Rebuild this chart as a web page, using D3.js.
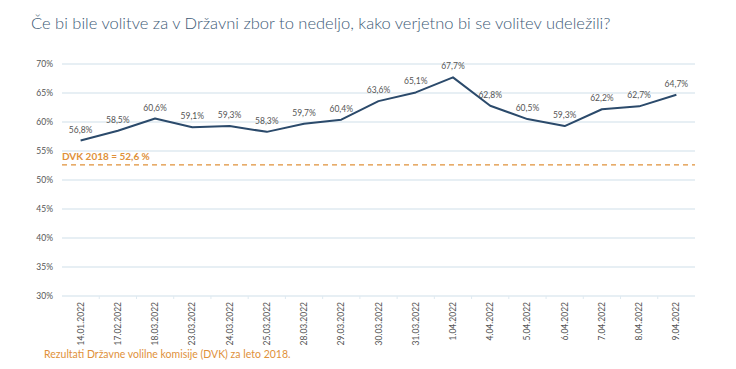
<!DOCTYPE html>
<html>
<head>
<meta charset="utf-8">
<script src="https://cdn.jsdelivr.net/npm/d3@7"></script>
<style>
  body { margin: 0; background: #fff; }
  text { font-family: Lato, "Open Sans", sans-serif; }
</style>
</head>
<body>
<div id="chart"></div>
<script>
const dates = ['14.01.2022', '17.02.2022', '18.03.2022', '23.03.2022', '24.03.2022', '25.03.2022',
  '28.03.2022', '29.03.2022', '30.03.2022', '31.03.2022', '1.04.2022', '4.04.2022', '5.04.2022',
  '6.04.2022', '7.04.2022', '8.04.2022', '9.04.2022'];
const turnout = [56.8, 58.5, 60.6, 59.1, 59.3, 58.3, 59.7, 60.4, 63.6, 65.1, 67.7, 62.8, 60.5, 59.3, 62.2, 62.7, 64.7];
const yTicks = [30, 35, 40, 45, 50, 55, 60, 65, 70];
const dvk2018 = 52.6;

const width = 736, height = 369;
const margin = { left: 62, right: 41, top: 64, bottom: 73 };

const svg = d3.select('#chart').append('svg')
  .attr('width', width)
  .attr('height', height);

const x = d3.scaleBand()
  .domain(dates)
  .range([margin.left, width - margin.right]);

const y = d3.scaleLinear()
  .domain([30, 70])
  .range([height - margin.bottom, margin.top]);

const fmt = v => String(v).replace('.', ',') + '%';

// Title
svg.append('text')
  .attr('x', 31)
  .attr('y', 29)
  .attr('font-size', 16.5)
  .attr('font-weight', 300)
  .attr('fill', '#3d5a76')
  .text('Če bi bile volitve za v Državni zbor to nedeljo, kako verjetno bi se volitev udeležili?');

// Gridlines + y labels
svg.append('g')
  .selectAll('line')
  .data(yTicks)
  .join('line')
  .attr('x1', margin.left)
  .attr('x2', width - margin.right)
  .attr('y1', d => y(d))
  .attr('y2', d => y(d))
  .attr('stroke', '#dfeaf1')
  .attr('stroke-width', 1.3);

svg.append('g')
  .selectAll('text')
  .data(yTicks)
  .join('text')
  .attr('x', 53)
  .attr('y', d => y(d) + 3)
  .attr('text-anchor', 'end')
  .attr('font-size', 8.5)
  .attr('fill', '#555')
  .text(d => d + '%');

// x ticks on the baseline
svg.append('g')
  .selectAll('line')
  .data(dates.slice(1))
  .join('line')
  .attr('x1', d => x(d))
  .attr('x2', d => x(d))
  .attr('y1', y(30))
  .attr('y2', y(30) + 3)
  .attr('stroke', '#dfeaf1');

// x labels, rotated
svg.append('g')
  .selectAll('text')
  .data(dates)
  .join('text')
  .attr('transform', d => `translate(${x(d) + x.bandwidth() / 2 + 3},${y(30) + 6}) rotate(-90)`)
  .attr('text-anchor', 'end')
  .attr('font-size', 8.5)
  .attr('fill', '#555')
  .text(d => d);

// DVK 2018 reference line
svg.append('line')
  .attr('x1', margin.left)
  .attr('x2', width - margin.right)
  .attr('y1', y(dvk2018))
  .attr('y2', y(dvk2018))
  .attr('stroke', '#e0913a')
  .attr('stroke-width', 1.3)
  .attr('stroke-dasharray', '5,4');

svg.append('text')
  .attr('x', margin.left)
  .attr('y', y(dvk2018) - 5)
  .attr('font-size', 10)
  .attr('font-weight', 'bold')
  .attr('fill', '#e0913a')
  .text('DVK 2018 = 52,6 %');

// Turnout line
const line = d3.line()
  .x((d, i) => x(dates[i]) + x.bandwidth() / 2)
  .y(d => y(d));

svg.append('path')
  .datum(turnout)
  .attr('d', line)
  .attr('fill', 'none')
  .attr('stroke', '#2b4a6b')
  .attr('stroke-width', 2)
  .attr('stroke-linejoin', 'round');

svg.append('g')
  .selectAll('text')
  .data(turnout)
  .join('text')
  .attr('x', (d, i) => x(dates[i]) + x.bandwidth() / 2)
  .attr('y', d => y(d) - 8)
  .attr('text-anchor', 'middle')
  .attr('font-size', 8.5)
  .attr('fill', '#555')
  .text(d => fmt(d));

// Footer
svg.append('text')
  .attr('x', 44)
  .attr('y', 358)
  .attr('font-size', 10.5)
  .attr('fill', '#e0913a')
  .text('Rezultati Državne volilne komisije (DVK) za leto 2018.');
</script>
</body>
</html>
